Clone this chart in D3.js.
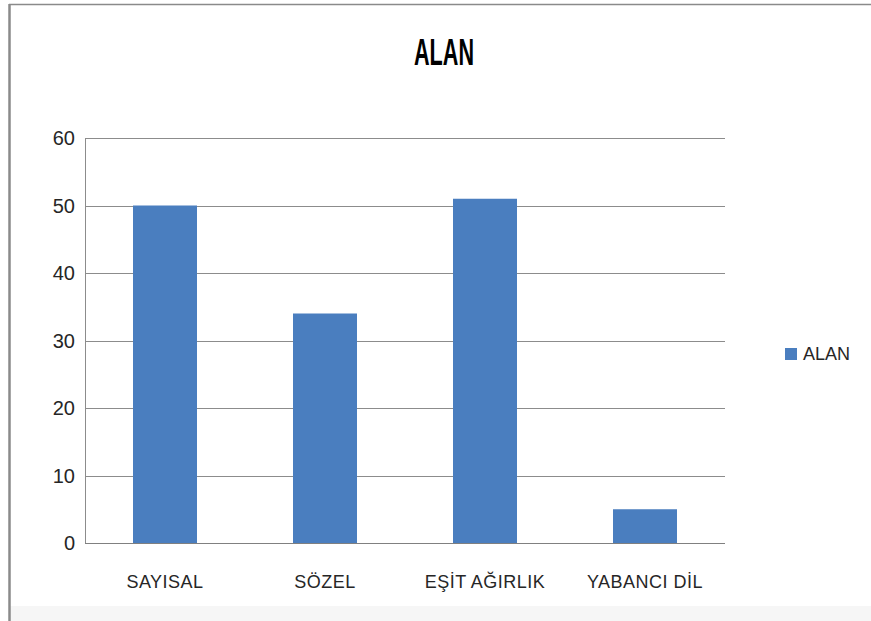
<!DOCTYPE html>
<html>
<head>
<meta charset="utf-8">
<script src="https://cdn.jsdelivr.net/npm/d3@7"></script>
<style>
  body { margin: 0; background: #fff; }
  text { font-family: "Liberation Sans", Arial, sans-serif; }
</style>
</head>
<body>
<svg id="chart" width="871" height="621"></svg>
<script>
const categories = ["SAYISAL", "SÖZEL", "EŞİT AĞIRLIK", "YABANCI DİL"];
const values = [50, 34, 51, 5];
const yTicks = [0, 10, 20, 30, 40, 50, 60];
const seriesName = "ALAN";

const svg = d3.select("#chart");
const plot = { left: 85, right: 725, top: 138, bottom: 543 };
const barColor = "#4a7ebf";

// outer frame (only top and left edges show)
svg.append("rect").attr("x", 9).attr("y", 606).attr("width", 862).attr("height", 15)
    .attr("fill", "#f6f6f6");
svg.append("line").attr("x1", 9).attr("x2", 871).attr("y1", 4.5).attr("y2", 4.5)
    .attr("stroke", "#8a8a8a").attr("stroke-width", 1.5);
svg.append("line").attr("x1", 9.5).attr("x2", 9.5).attr("y1", 4).attr("y2", 621)
    .attr("stroke", "#8a8a8a").attr("stroke-width", 2.5);

const x = d3.scaleBand()
    .domain(categories)
    .range([plot.left, plot.right])
    .paddingInner(0.6)
    .paddingOuter(0.3);

const y = d3.scaleLinear()
    .domain([0, 60])
    .range([plot.bottom, plot.top]);

// gridlines
svg.append("g")
    .selectAll("line")
    .data(yTicks.filter(d => d > 0))
    .join("line")
    .attr("x1", plot.left)
    .attr("x2", plot.right)
    .attr("y1", d => Math.round(y(d)) + 0.5)
    .attr("y2", d => Math.round(y(d)) + 0.5)
    .attr("stroke", "#8c8c8c")
    .attr("stroke-width", 1);

// bars
svg.append("g")
    .selectAll("rect")
    .data(values)
    .join("rect")
    .attr("x", (d, i) => x(categories[i]))
    .attr("y", d => y(d))
    .attr("width", x.bandwidth())
    .attr("height", d => y(0) - y(d))
    .attr("fill", barColor);

// axes lines
svg.append("line")
    .attr("x1", plot.left + 0.5).attr("x2", plot.left + 0.5)
    .attr("y1", plot.top).attr("y2", plot.bottom)
    .attr("stroke", "#8c8c8c");
svg.append("line")
    .attr("x1", plot.left).attr("x2", plot.right)
    .attr("y1", plot.bottom + 0.5).attr("y2", plot.bottom + 0.5)
    .attr("stroke", "#808080");

// y tick labels
svg.append("g")
    .selectAll("text")
    .data(yTicks)
    .join("text")
    .attr("x", 75)
    .attr("y", d => y(d))
    .attr("dy", "0.36em")
    .attr("text-anchor", "end")
    .attr("font-size", 20)
    .attr("fill", "#262626")
    .text(d => d);

// category labels
svg.append("g")
    .selectAll("text")
    .data(categories)
    .join("text")
    .attr("x", d => x(d) + x.bandwidth() / 2)
    .attr("y", 588)
    .attr("text-anchor", "middle")
    .attr("font-size", 18)
    .attr("letter-spacing", 0.5)
    .attr("fill", "#262626")
    .text(d => d);

// title
svg.append("text")
    .attr("x", 444)
    .attr("y", 65)
    .attr("text-anchor", "middle")
    .attr("font-size", 37)
    .attr("font-weight", "bold")
    .attr("textLength", 60)
    .attr("lengthAdjust", "spacingAndGlyphs")
    .attr("fill", "#000")
    .text(seriesName);

// legend
const legend = svg.append("g").attr("transform", "translate(785,348)");
legend.append("rect").attr("width", 12).attr("height", 12).attr("fill", barColor);
legend.append("text")
    .attr("x", 18)
    .attr("y", 6)
    .attr("dy", "0.36em")
    .attr("font-size", 18)
    .attr("fill", "#262626")
    .text(seriesName);
</script>
</body>
</html>
